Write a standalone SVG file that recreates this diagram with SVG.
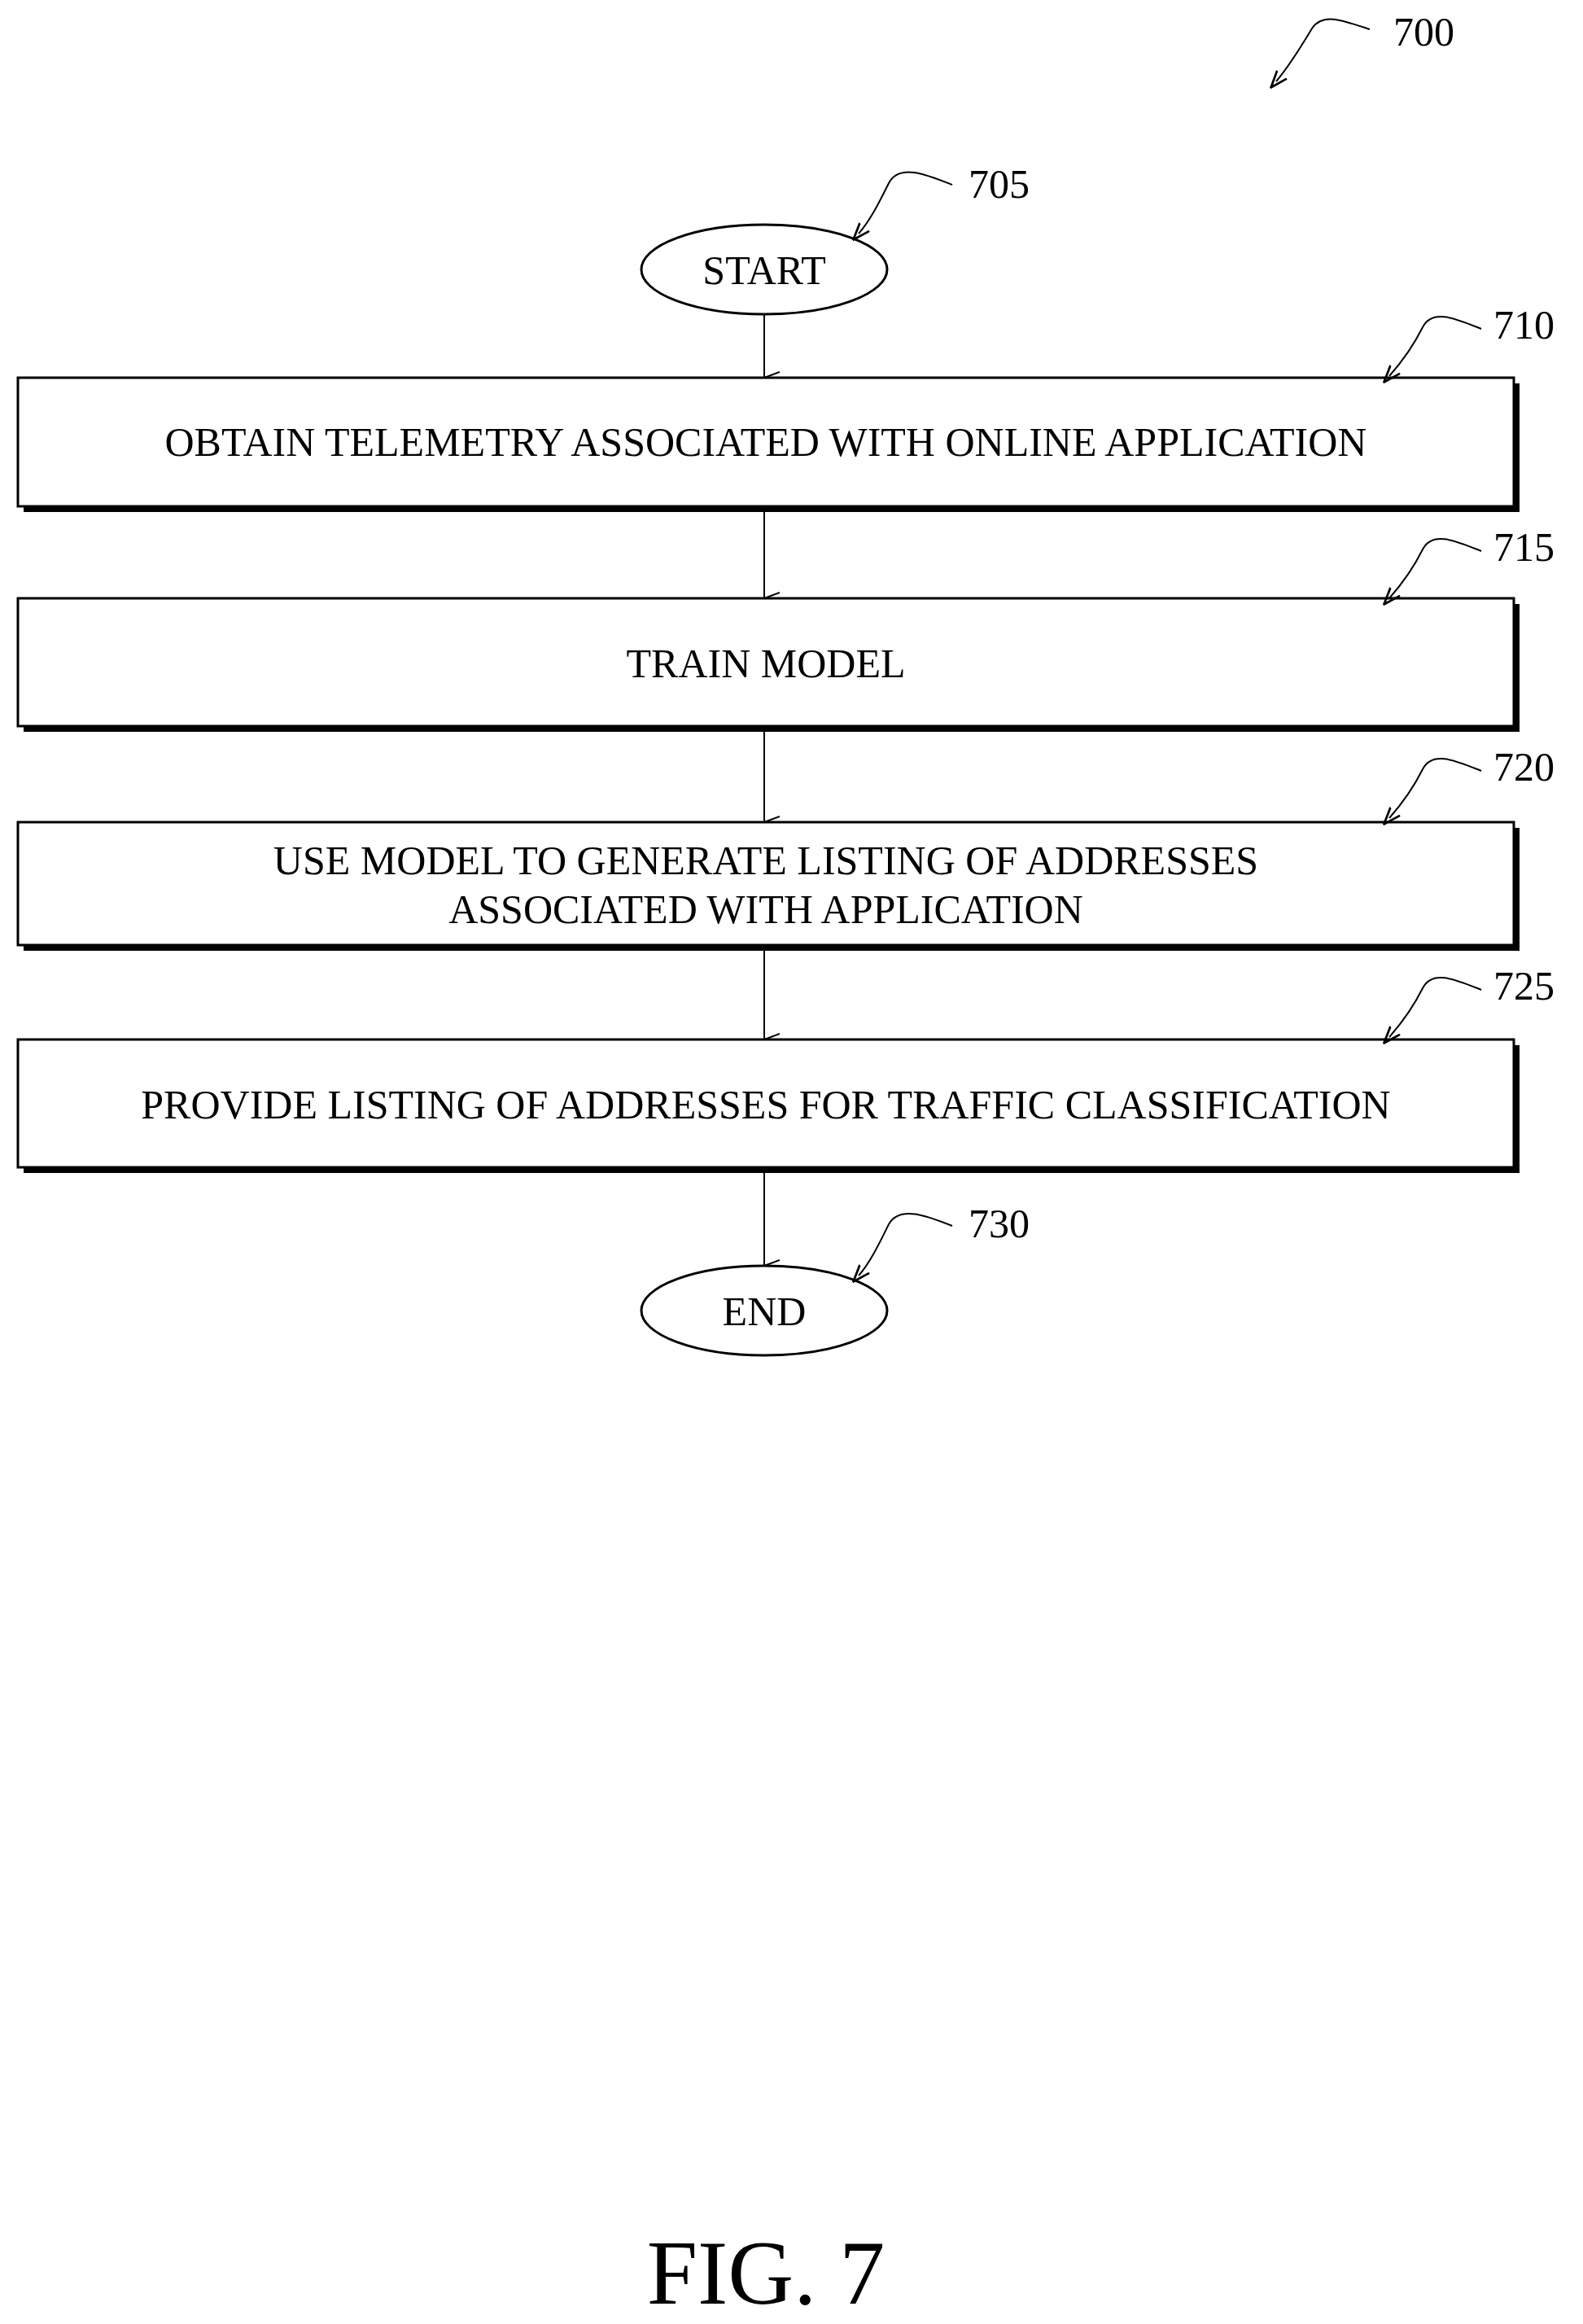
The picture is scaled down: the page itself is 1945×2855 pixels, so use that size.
<svg xmlns="http://www.w3.org/2000/svg" width="1945" height="2855" viewBox="0 0 1945 2855">
<defs>
<style>
text{font-family:"Liberation Serif","Times New Roman",serif;fill:#000}
.t{font-size:50px;text-anchor:middle}
.r{font-size:50px}
.box{fill:#fff;stroke:#000;stroke-width:3}
.sh{fill:#000}
.ln{stroke:#000;stroke-width:2;fill:none}
</style>
<marker id="a" viewBox="0 0 20 20" refX="10" refY="19" markerWidth="20" markerHeight="20" markerUnits="userSpaceOnUse" orient="auto-start-reverse">
<path d="M3,0 L10,19 L17,0" fill="none" stroke="#000" stroke-width="2"/>
</marker>
<marker id="b" viewBox="0 0 20 20" refX="10" refY="10" markerWidth="22" markerHeight="22" markerUnits="userSpaceOnUse" orient="auto">
<path d="M0,3 L19,10 L0,17" fill="none" stroke="#000" stroke-width="2.5"/>
</marker>
</defs>
<rect width="1945" height="2855" fill="#fff"/>
<g id="connectors">
<line class="ln" x1="939" y1="386" x2="939" y2="464" marker-end="url(#a)"/>
<line class="ln" x1="939" y1="625" x2="939" y2="735" marker-end="url(#a)"/>
<line class="ln" x1="939" y1="896" x2="939" y2="1010" marker-end="url(#a)"/>
<line class="ln" x1="939" y1="1165" x2="939" y2="1277" marker-end="url(#a)"/>
<line class="ln" x1="939" y1="1438" x2="939" y2="1555" marker-end="url(#a)"/>
</g>
<g id="n705"><ellipse cx="939" cy="331" rx="151" ry="55" fill="#fff" stroke="#000" stroke-width="3"/><text class="t" x="939" y="349">START</text></g>
<g id="n710"><rect class="sh" x="29" y="471" width="1838" height="158"/><rect class="box" x="22" y="464" width="1838" height="158"/><text class="t" x="941" y="560">OBTAIN TELEMETRY ASSOCIATED WITH ONLINE APPLICATION</text></g>
<g id="n715"><rect class="sh" x="29" y="742" width="1838" height="157"/><rect class="box" x="22" y="735" width="1838" height="157"/><text class="t" x="941" y="832">TRAIN MODEL</text></g>
<g id="n720"><rect class="sh" x="29" y="1017" width="1838" height="151"/><rect class="box" x="22" y="1010" width="1838" height="151"/><text class="t" x="941" y="1074">USE MODEL TO GENERATE LISTING OF ADDRESSES</text><text class="t" x="941" y="1134">ASSOCIATED WITH APPLICATION</text></g>
<g id="n725"><rect class="sh" x="29" y="1284" width="1838" height="157"/><rect class="box" x="22" y="1277" width="1838" height="157"/><text class="t" x="941" y="1374">PROVIDE LISTING OF ADDRESSES FOR TRAFFIC CLASSIFICATION</text></g>
<g id="n730"><ellipse cx="939" cy="1610" rx="151" ry="55" fill="#fff" stroke="#000" stroke-width="3"/><text class="t" x="939" y="1628">END</text></g>
<g id="labels">
<path class="ln" d="M1683,36 C1650,25 1625,15 1612,35 C1600,55 1585,80 1568,100" marker-end="url(#b)"/>
<text class="r" x="1712" y="56">700</text>
<path class="ln" d="M1170,227 C1140,215 1105,200 1092,225 C1082,245 1070,270 1055,287" marker-end="url(#b)"/>
<text class="r" x="1190" y="243">705</text>
<path class="ln" d="M1820,404 C1790,392 1760,378 1748,402 C1738,422 1722,445 1707,462" marker-end="url(#b)"/>
<text class="r" x="1835" y="416">710</text>
<path class="ln" d="M1820,677 C1790,665 1760,651 1748,675 C1738,695 1722,718 1707,735" marker-end="url(#b)"/>
<text class="r" x="1835" y="689">715</text>
<path class="ln" d="M1820,947 C1790,935 1760,921 1748,945 C1738,965 1722,988 1707,1005" marker-end="url(#b)"/>
<text class="r" x="1835" y="959">720</text>
<path class="ln" d="M1820,1216 C1790,1204 1760,1190 1748,1214 C1738,1234 1722,1257 1707,1274" marker-end="url(#b)"/>
<text class="r" x="1835" y="1228">725</text>
<path class="ln" d="M1170,1506 C1140,1494 1105,1480 1092,1504 C1082,1524 1070,1550 1055,1567" marker-end="url(#b)"/>
<text class="r" x="1190" y="1520">730</text>
<text x="941" y="2830" style="font-size:112px;text-anchor:middle">FIG. 7</text>
</g>
</svg>
